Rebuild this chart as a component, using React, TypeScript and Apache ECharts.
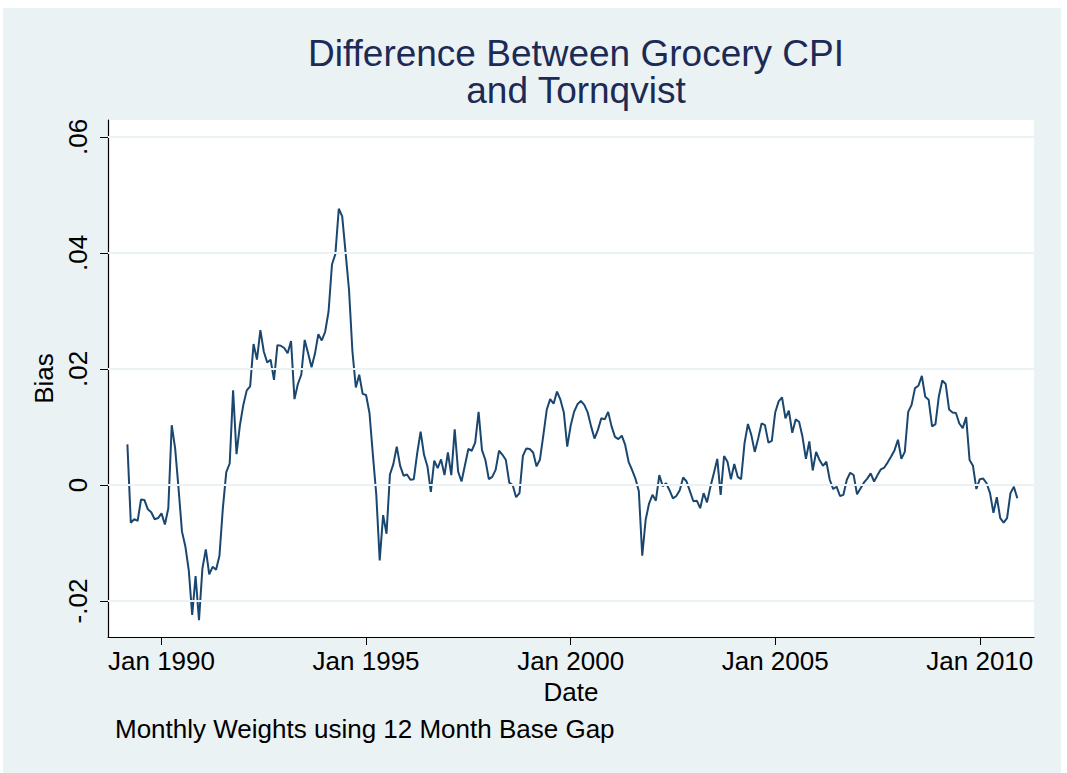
import React, { useEffect, useRef } from "react";
import * as echarts from "echarts";

// Monthly bias values, March 1989 - December 2010
const startYear = 1989;
const startMonth = 3;
const bias1989 = [0.0070, -0.0065, -0.0059, -0.0062, -0.0025, -0.0026, -0.0042, -0.0047, -0.0059, -0.0057];
const bias1990 = [-0.0049, -0.0068, -0.0040, 0.0103, 0.0063, -0.0006, -0.0080, -0.0106, -0.0147, -0.0224, -0.0157, -0.0233];
const bias1991 = [-0.0144, -0.0111, -0.0154, -0.0141, -0.0146, -0.0122, -0.0040, 0.0022, 0.0037, 0.0163, 0.0053, 0.0103];
const bias1992 = [0.0138, 0.0163, 0.0170, 0.0243, 0.0216, 0.0267, 0.0230, 0.0211, 0.0216, 0.0181, 0.0241, 0.0240];
const bias1993 = [0.0236, 0.0227, 0.0248, 0.0148, 0.0174, 0.0190, 0.0250, 0.0227, 0.0203, 0.0226, 0.0260, 0.0249];
const bias1994 = [0.0264, 0.0299, 0.0380, 0.0398, 0.0476, 0.0463, 0.0400, 0.0336, 0.0230, 0.0168, 0.0190, 0.0157];
const bias1995 = [0.0155, 0.0124, 0.0052, -0.0017, -0.0130, -0.0052, -0.0084, 0.0018, 0.0036, 0.0066, 0.0033, 0.0016];
const bias1996 = [0.0018, 0.0009, 0.0010, 0.0055, 0.0092, 0.0052, 0.0032, -0.0012, 0.0042, 0.0029, 0.0044, 0.0017];
const bias1997 = [0.0056, 0.0017, 0.0096, 0.0023, 0.0006, 0.0034, 0.0062, 0.0059, 0.0073, 0.0126, 0.0060, 0.0043];
const bias1998 = [0.0010, 0.0014, 0.0026, 0.0059, 0.0052, 0.0043, 0.0004, 0.0000, -0.0021, -0.0014, 0.0050, 0.0063];
const bias1999 = [0.0062, 0.0056, 0.0032, 0.0044, 0.0086, 0.0130, 0.0148, 0.0140, 0.0161, 0.0147, 0.0125, 0.0066];
const bias2000 = [0.0102, 0.0126, 0.0139, 0.0145, 0.0138, 0.0125, 0.0101, 0.0080, 0.0095, 0.0115, 0.0113, 0.0126];
const bias2001 = [0.0101, 0.0083, 0.0079, 0.0085, 0.0069, 0.0040, 0.0026, 0.0011, -0.0011, -0.0122, -0.0060, -0.0032];
const bias2002 = [-0.0017, -0.0027, 0.0017, -0.0002, 0.0003, -0.0009, -0.0023, -0.0019, -0.0009, 0.0013, 0.0006, -0.0011];
const bias2003 = [-0.0028, -0.0027, -0.0040, -0.0014, -0.0030, -0.0003, 0.0020, 0.0045, -0.0017, 0.0050, 0.0040, 0.0010];
const bias2004 = [0.0036, 0.0014, 0.0010, 0.0072, 0.0105, 0.0086, 0.0057, 0.0080, 0.0106, 0.0103, 0.0073, 0.0076];
const bias2005 = [0.0125, 0.0144, 0.0151, 0.0115, 0.0128, 0.0090, 0.0113, 0.0109, 0.0083, 0.0045, 0.0075, 0.0025];
const bias2006 = [0.0057, 0.0043, 0.0033, 0.0040, 0.0009, -0.0007, -0.0003, -0.0019, -0.0017, 0.0009, 0.0021, 0.0017];
const bias2007 = [-0.0016, -0.0006, 0.0004, 0.0011, 0.0020, 0.0006, 0.0017, 0.0027, 0.0030, 0.0039, 0.0049, 0.0060];
const bias2008 = [0.0078, 0.0045, 0.0057, 0.0126, 0.0138, 0.0167, 0.0171, 0.0188, 0.0152, 0.0147, 0.0101, 0.0105];
const bias2009 = [0.0153, 0.0180, 0.0174, 0.0130, 0.0125, 0.0124, 0.0106, 0.0098, 0.0117, 0.0043, 0.0033, -0.0007];
const bias2010 = [0.0010, 0.0011, 0.0003, -0.0014, -0.0048, -0.0021, -0.0057, -0.0065, -0.0057, -0.0014, -0.0003, -0.0023];

const yTickValues = [-0.02, 0, 0.02, 0.04, 0.06];
const yTickLabels = ["-.02", "0", ".02", ".04", ".06"];
const xTickYears = [1990, 1995, 2000, 2005, 2010];

const titleText = "Difference Between Grocery CPI\nand Tornqvist";
const xName = "Date";
const yName = "Bias";
const noteText = "Monthly Weights using 12 Month Base Gap";

const FONT = "'Liberation Sans', Arial, Helvetica, sans-serif";
const AXIS_FONT = 26;

export default function App() {
  const ref = useRef<HTMLDivElement>(null);
  useEffect(() => {
    if (!ref.current) return;
    const chart = echarts.init(ref.current, null, { renderer: "svg" });
    const all = [
      ...bias1989, ...bias1990, ...bias1991, ...bias1992, ...bias1993, ...bias1994,
      ...bias1995, ...bias1996, ...bias1997, ...bias1998, ...bias1999, ...bias2000,
      ...bias2001, ...bias2002, ...bias2003, ...bias2004, ...bias2005, ...bias2006,
      ...bias2007, ...bias2008, ...bias2009, ...bias2010,
    ];
    // x = months since Jan 1990
    const offset = (startYear - 1990) * 12 + (startMonth - 1);
    const data = all.map((v, i) => [offset + i, v]);
    const xTicks = xTickYears.map((y) => (y - 1990) * 12);

    chart.setOption({
      animation: false,
      backgroundColor: "#ffffff",
      textStyle: { fontFamily: FONT },
      graphic: [
        {
          type: "rect",
          z: -10,
          silent: true,
          shape: { x: 3, y: 8, width: 1058, height: 765 },
          style: { fill: "#eaf2f3" },
        },
        {
          type: "text",
          left: 115,
          top: 716,
          style: { text: noteText, fontSize: AXIS_FONT, fill: "#000", fontFamily: FONT },
        },
      ],
      title: {
        text: titleText,
        left: 571,
        top: 30,
        textAlign: "center",
        textStyle: {
          fontSize: 37,
          fontWeight: "normal",
          color: "#1c2a55",
          lineHeight: 37,
          fontFamily: FONT,
        },
      },
      grid: {
        left: 108,
        right: 33,
        top: 120,
        bottom: 136,
        show: true,
        backgroundColor: "#ffffff",
        borderWidth: 0,
      },
      xAxis: {
        type: "value",
        min: -15.69,
        max: 255.9,
        name: xName,
        nameLocation: "middle",
        nameGap: 41,
        nameTextStyle: { fontSize: AXIS_FONT, color: "#000", fontFamily: FONT },
        axisLine: { show: true, onZero: false, lineStyle: { color: "#000", width: 1.2 } },
        axisTick: { show: true, length: 8, customValues: xTicks, lineStyle: { color: "#000" } },
        axisLabel: {
          customValues: xTicks,
          fontSize: AXIS_FONT,
          color: "#000",
          margin: 11,
          fontFamily: FONT,
          formatter: (v: number) => "Jan " + (1990 + Math.round(v / 12)),
        },
        splitLine: { show: false },
      },
      yAxis: {
        type: "value",
        min: -0.0262,
        max: 0.0629,
        name: yName,
        nameLocation: "middle",
        nameGap: 50,
        nameRotate: 90,
        nameTextStyle: { fontSize: AXIS_FONT, color: "#000", fontFamily: FONT },
        axisLine: { show: true, onZero: false, lineStyle: { color: "#000", width: 1.2 } },
        axisTick: { show: true, length: 8, customValues: yTickValues, lineStyle: { color: "#000" } },
        axisLabel: {
          customValues: yTickValues,
          rotate: 90,
          fontSize: AXIS_FONT,
          color: "#000",
          margin: 17,
          fontFamily: FONT,
          formatter: (v: number) => {
            const idx = yTickValues.findIndex((t) => Math.abs(t - v) < 1e-9);
            return idx >= 0 ? yTickLabels[idx] : "";
          },
        },
        splitLine: { show: false },
      },
      series: [
        {
          type: "line",
          data: [],
          z: 1,
          silent: true,
          markLine: {
            silent: true,
            symbol: "none",
            label: { show: false },
            lineStyle: { color: "#eaf2f3", width: 2, type: "solid" },
            data: yTickValues.map((v) => ({ yAxis: v })),
          },
        },
        {
          type: "line",
          data,
          z: 3,
          showSymbol: false,
          symbol: "none",
          lineStyle: { color: "#1a476f", width: 2 },
        },
      ],
    });
    return () => chart.dispose();
  }, []);
  return (
    <div
      ref={ref}
      style={{ position: "fixed", left: 0, top: 0, width: 1067, height: 773 }}
    />
  );
}
